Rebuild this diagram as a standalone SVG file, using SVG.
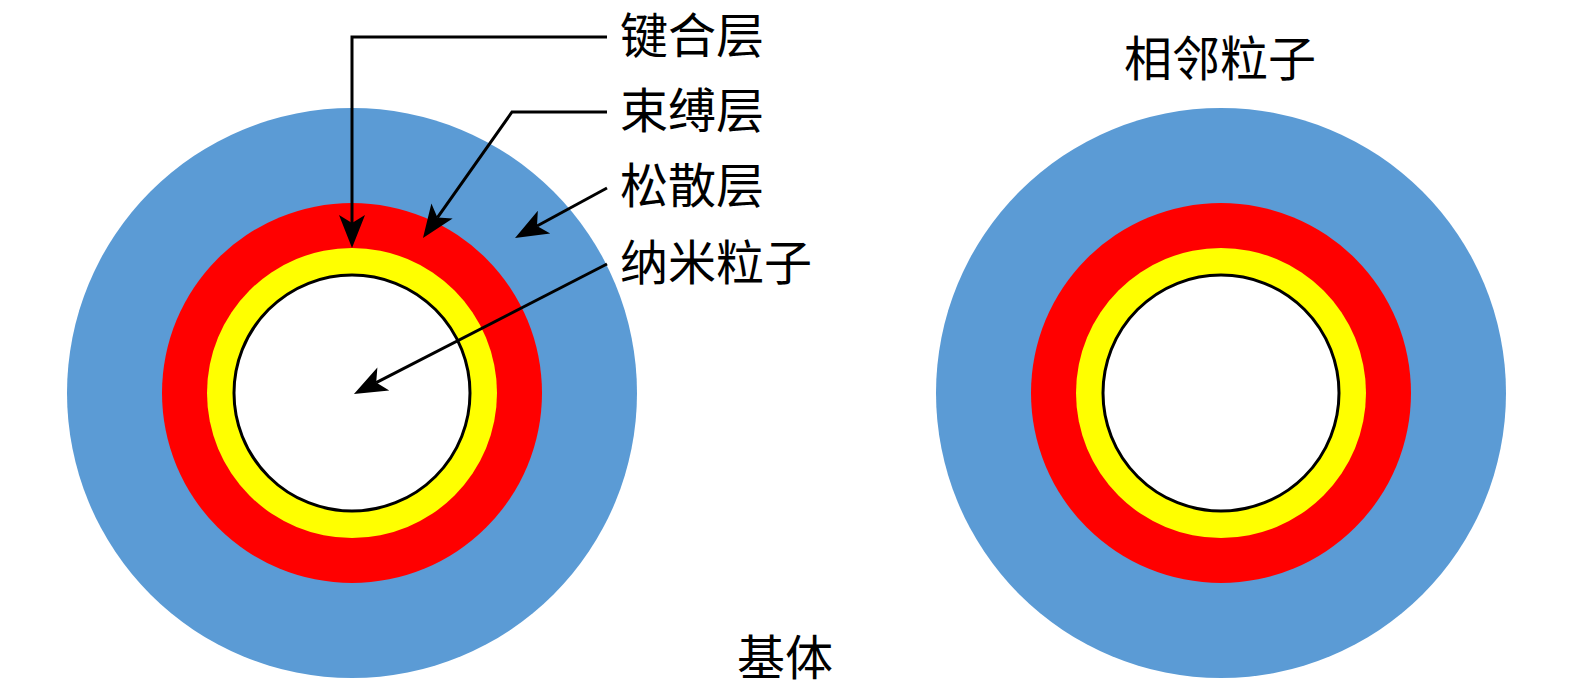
<svg xmlns="http://www.w3.org/2000/svg" width="1575" height="699" viewBox="0 0 1575 699">
<style>
.blue{fill:#5B9BD5}
.red{fill:#FF0000}
.yellow{fill:#FFFF00}
.core{fill:#FFFFFF;stroke:#000000;stroke-width:3}
.lbl{font-family:"Noto Sans CJK SC","Noto Sans",sans-serif;font-size:48px;fill:#000000}
.conn{fill:none;stroke:#000000;stroke-width:3;marker-end:url(#arr)}
</style>
<defs>
<marker id="arr" viewBox="-34 -14 36 28" markerWidth="36" markerHeight="28" refX="-25" refY="0" orient="auto" markerUnits="userSpaceOnUse">
<path d="M0,0 L-33,-13 L-25,0 L-33,13 Z" fill="#000000"/>
</marker>
</defs>
<rect width="1575" height="699" fill="#FFFFFF"/>
<g id="particle-left">
<circle class="blue" cx="352" cy="393" r="285"/>
<circle class="red" cx="352" cy="393" r="190"/>
<circle class="yellow" cx="352" cy="393" r="145"/>
<circle class="core" cx="352" cy="393" r="118"/>
</g>
<g id="particle-right">
<circle class="blue" cx="1221" cy="393" r="285"/>
<circle class="red" cx="1221" cy="393" r="190"/>
<circle class="yellow" cx="1221" cy="393" r="145"/>
<circle class="core" cx="1221" cy="393" r="118"/>
</g>
<g id="connectors">
<polyline class="conn" points="607,37 352,37 352,223"/>
<polyline class="conn" points="607,112 512,112 437.4,217.6"/>
<line class="conn" x1="607" y1="188" x2="537" y2="226"/>
<line class="conn" x1="607" y1="264" x2="376.2" y2="382.6"/>
</g>
<g id="label-bond"><text class="lbl" x="620" y="53">键合层</text></g>
<g id="label-bound"><text class="lbl" x="620" y="128">束缚层</text></g>
<g id="label-loose"><text class="lbl" x="620" y="203">松散层</text></g>
<g id="label-nano"><text class="lbl" x="620" y="280">纳米粒子</text></g>
<g id="label-adjacent"><text class="lbl" x="1124" y="76">相邻粒子</text></g>
<g id="label-matrix"><text class="lbl" x="737" y="675">基体</text></g>
</svg>
